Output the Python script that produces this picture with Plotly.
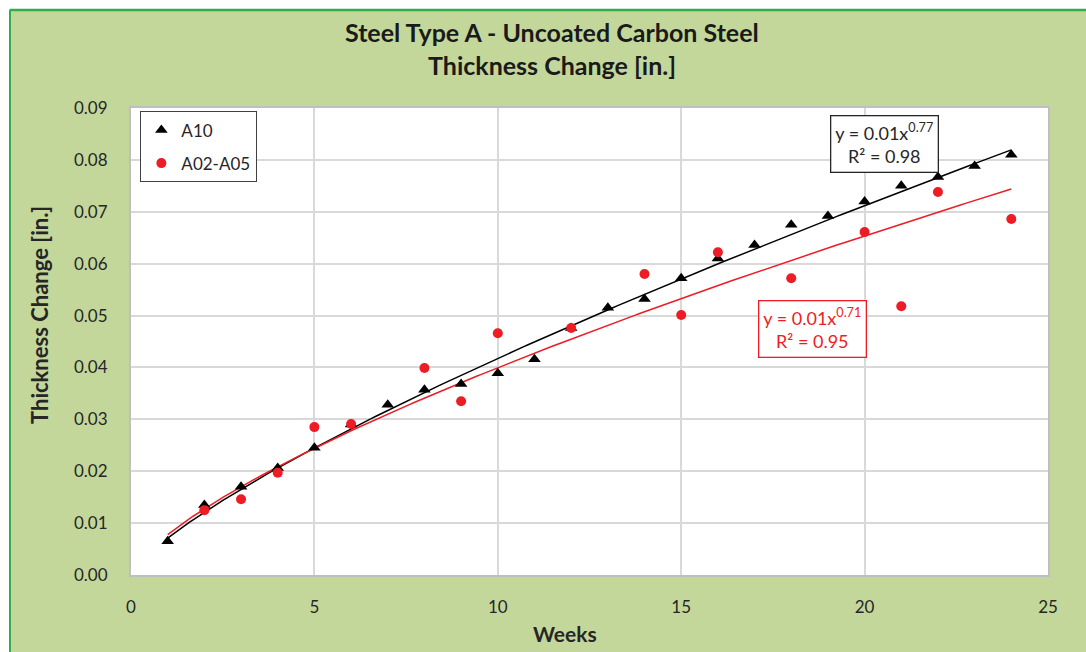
import numpy as np
import plotly.graph_objects as go

# Weekly thickness change measurements
weeks_a10 = [1, 2, 3, 4, 5, 6, 7, 8, 9, 10, 11, 12, 13, 14, 15, 16, 17, 18, 19, 20, 21, 22, 23, 24]
thick_a10 = [0.0065, 0.0135, 0.0170, 0.0206, 0.0245, 0.0290, 0.0328, 0.0357, 0.0368, 0.0389,
             0.0416, 0.0476, 0.0515, 0.0532, 0.0572, 0.0610, 0.0636, 0.0675, 0.0692, 0.0720,
             0.0750, 0.0767, 0.0788, 0.0810]

weeks_a02 = [2, 3, 4, 5, 6, 8, 9, 10, 12, 14, 15, 16, 18, 20, 21, 22, 24]
thick_a02 = [0.0125, 0.0146, 0.0197, 0.0285, 0.0291, 0.0399, 0.0335, 0.0466, 0.0476, 0.0580,
             0.0501, 0.0622, 0.0572, 0.0661, 0.0518, 0.0738, 0.0686]

# Power trendlines y = coef * x^expo, with reported R²
trend_coef = {"A10": 0.00709, "A02-A05": 0.00779}
trend_expo = {"A10": 0.77, "A02-A05": 0.71}
trend_r2 = {"A10": 0.98, "A02-A05": 0.95}

x_ticks = [0, 5, 10, 15, 20, 25]
y_ticks = [0.00, 0.01, 0.02, 0.03, 0.04, 0.05, 0.06, 0.07, 0.08, 0.09]

FONT = "Lato"
BG = "#c4d79b"
RED = "#ee1c25"

fig = go.Figure()

series = [
    ("A10", weeks_a10, thick_a10, "black", "triangle-up", 11),
    ("A02-A05", weeks_a02, thick_a02, RED, "circle", 10),
]

for name, xs, ys, color, symbol, size in series:
    a, b = trend_coef[name], trend_expo[name]
    xl = np.linspace(min(weeks_a10), max(weeks_a10), 200)
    fig.add_trace(go.Scatter(x=xl, y=a * xl ** b, mode="lines",
                             line=dict(color=color, width=1.5),
                             showlegend=False, hoverinfo="skip"))

for name, xs, ys, color, symbol, size in series:
    fig.add_trace(go.Scatter(x=xs, y=ys, mode="markers", name=name, legendgroup=name,
                             marker=dict(color=color, symbol=symbol, size=size)))


def eq_text(name):
    return (f"y = {trend_coef[name]:.2f}x<sup>{trend_expo[name]:.2f}</sup>"
            f"<br>R² = {trend_r2[name]:.2f}")


fig.add_annotation(x=20.54, y=0.0830, xref="x", yref="y", text=eq_text("A10"),
                   showarrow=False, font=dict(family=FONT, size=18, color="#262626"),
                   bgcolor="white", bordercolor="#262626", borderwidth=1.3, borderpad=4)
fig.add_annotation(x=18.58, y=0.0475, xref="x", yref="y", text=eq_text("A02-A05"),
                   showarrow=False, font=dict(family=FONT, size=18, color=RED),
                   bgcolor="white", bordercolor=RED, borderwidth=1.3, borderpad=4)

W, H = 1086, 652
ML, MR, MT, MB = 131, 38, 108, 77
PW, PH = W - ML - MR, H - MT - MB


def px_x(px):
    return (px - ML) / PW


def px_y(py):
    return (H - MB - py) / PH


# Two-line chart title
for text, py in [("Steel Type A - Uncoated Carbon Steel", 32),
                 ("Thickness Change [in.]", 65)]:
    fig.add_annotation(x=px_x(552), y=px_y(py), xref="paper", yref="paper", text=f"<b>{text}</b>",
                       showarrow=False, font=dict(family=FONT, size=25, color="#1a1a1a"),
                       xanchor="center", yanchor="middle")

# Axis titles
fig.add_annotation(x=px_x(565), y=px_y(633), xref="paper", yref="paper", text="<b>Weeks</b>",
                   showarrow=False, font=dict(family=FONT, size=21, color="#262626"),
                   xanchor="center", yanchor="middle")
fig.add_annotation(x=px_x(39), y=px_y(315), xref="paper", yref="paper",
                   text="<b>Thickness Change [in.]</b>", textangle=-90,
                   showarrow=False, font=dict(family=FONT, size=22, color="#262626"),
                   xanchor="center", yanchor="middle")

# White margin strips and green frame edge of the chart area
fig.add_shape(type="rect", xref="paper", yref="paper", x0=px_x(-5), x1=px_x(9), y0=px_y(700), y1=px_y(-5),
              fillcolor="white", line_width=0, layer="below")
fig.add_shape(type="rect", xref="paper", yref="paper", x0=px_x(-5), x1=px_x(1100), y0=px_y(9), y1=px_y(-5),
              fillcolor="white", line_width=0, layer="below")
fig.add_shape(type="line", xref="paper", yref="paper", x0=px_x(10), x1=px_x(1100), y0=px_y(10), y1=px_y(10),
              line=dict(color="#2db04c", width=2.5))
fig.add_shape(type="line", xref="paper", yref="paper", x0=px_x(10), x1=px_x(10), y0=px_y(10), y1=px_y(700),
              line=dict(color="#2db04c", width=2))

fig.update_layout(
    width=W, height=H,
    margin=dict(l=ML, r=MR, t=MT, b=MB),
    paper_bgcolor=BG, plot_bgcolor="white",
    font=dict(family=FONT, size=17, color="#262626"),
    legend=dict(x=0.01, y=0.993, xanchor="left", yanchor="top",
                bgcolor="white", bordercolor="#404040", borderwidth=1.2,
                font=dict(family=FONT, size=17, color="#262626"),
                traceorder="grouped", tracegroupgap=8, itemwidth=30),
    xaxis=dict(range=[0, 25], tickvals=x_ticks, ticktext=[str(v) for v in x_ticks],
               showgrid=True, gridcolor="#d9d9d9", gridwidth=1.5,
               showline=True, linecolor="#bfbfbf", linewidth=2, mirror=True,
               zeroline=False, ticks="", ticklabelstandoff=16),
    yaxis=dict(range=[0, 0.09], tickvals=y_ticks, ticktext=[f"{v:.2f}" for v in y_ticks],
               showgrid=True, gridcolor="#d9d9d9", gridwidth=1.5,
               showline=True, linecolor="#bfbfbf", linewidth=2, mirror=True,
               zeroline=False, ticks="", ticklabelstandoff=18),
)

fig.write_html("out.html")
